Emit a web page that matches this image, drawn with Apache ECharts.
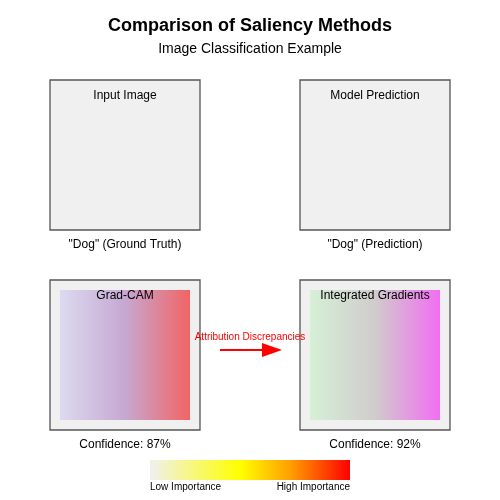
<!DOCTYPE html>
<html><head><meta charset="utf-8">
<script src="https://cdn.jsdelivr.net/npm/echarts@6/dist/echarts.min.js"></script>
<style>html,body{margin:0;padding:0;background:#fff}#c{width:500px;height:500px}</style>
</head><body><div id="c"></div>
<script>
// panels: [x0, y0, x1, y1] in the diagram's 0..500 coordinate space
const panelNames = ["Input Image", "Model Prediction", "Grad-CAM", "Integrated Gradients"];
const panelBoxes = [[50,80,200,230],[300,80,450,230],[50,280,200,430],[300,280,450,430]];
const panelCaptions = ['"Dog" (Ground Truth)', '"Dog" (Prediction)', 'Confidence: 87%', 'Confidence: 92%'];
const heatmapPanels = [2, 3];
const heatmapStops = [
  [[0,'#dcdaf0'],[0.5,'#c6a8d2'],[1,'#f26464']],
  [[0,'#d6f0d6'],[0.5,'#d0cccc'],[1,'#f26ef2']]
];
const colorbarStops = [[0,'#f0f0f0'],[0.45,'#ffff00'],[0.7,'#ffa000'],[1,'#ff0000']];
const colorbarLabels = ["Low Importance", "High Importance"];
const arrowLabel = "Attribution Discrepancies";

const FONT = 'Liberation Sans, Arial, sans-serif';
function grad(stops){return {type:'linear',x:0,y:0,x2:1,y2:0,colorStops:stops.map(s=>({offset:s[0],color:s[1]}))};}

const chart = echarts.init(document.getElementById('c'));
chart.setOption({
  animation:false,
  title:[
    {text:'Comparison of Saliency Methods',left:'center',top:12,textStyle:{fontSize:18,fontWeight:'bold',color:'#000',fontFamily:FONT}},
    {text:'Image Classification Example',left:'center',top:37,textStyle:{fontSize:14,fontWeight:'normal',color:'#000',fontFamily:FONT}}
  ],
  grid:{left:0,right:0,top:0,bottom:0},
  xAxis:{type:'value',min:0,max:500,show:false},
  yAxis:{type:'value',min:0,max:500,inverse:true,show:false},
  series:[{
    type:'custom',
    data:panelBoxes.map((b,i)=>[b[0],b[1],b[2],b[3],i]),
    renderItem:function(params, api){
      const i = api.value(4);
      const b = panelBoxes[i];
      const p0 = api.coord([b[0],b[1]]), p1 = api.coord([b[2],b[3]]);
      const children = [{type:'rect',shape:{x:p0[0],y:p0[1],width:p1[0]-p0[0],height:p1[1]-p0[1]},style:{fill:'#f0f0f0',stroke:'#555',lineWidth:1.3}}];
      const hi = heatmapPanels.indexOf(i);
      if(hi>=0){
        const q0 = api.coord([b[0]+10,b[1]+10]), q1 = api.coord([b[2]-10,b[3]-10]);
        children.push({type:'rect',shape:{x:q0[0],y:q0[1],width:q1[0]-q0[0],height:q1[1]-q0[1]},style:{fill:grad(heatmapStops[hi])}});
      }
      const t = api.coord([(b[0]+b[2])/2,b[1]+16]);
      children.push({type:'text',style:{x:t[0],y:t[1],text:panelNames[i],textAlign:'center',textVerticalAlign:'middle',font:'12px '+FONT,fill:'#000'}});
      const c = api.coord([(b[0]+b[2])/2,b[3]+15]);
      children.push({type:'text',style:{x:c[0],y:c[1],text:panelCaptions[i],textAlign:'center',textVerticalAlign:'middle',font:'12px '+FONT,fill:'#000'}});
      return {type:'group',children:children};
    }
  },{
    type:'custom',
    data:[[0]],
    renderItem:function(params, api){
      const a0 = api.coord([220,350]), a1 = api.coord([262,350]), a2 = api.coord([282,350]);
      const lt = api.coord([250,337]);
      const cb0 = api.coord([150,460]), cb1 = api.coord([350,480]);
      return {type:'group',children:[
        {type:'line',shape:{x1:a0[0],y1:a0[1],x2:a1[0],y2:a1[1]},style:{stroke:'#ff0000',lineWidth:2}},
        {type:'polygon',shape:{points:[[a1[0],a1[1]-7],[a2[0],a2[1]],[a1[0],a1[1]+7]]},style:{fill:'#ff0000'}},
        {type:'text',style:{x:lt[0],y:lt[1],text:arrowLabel,textAlign:'center',textVerticalAlign:'middle',font:'10px '+FONT,fill:'#ff0000'}},
        {type:'rect',shape:{x:cb0[0],y:cb0[1],width:cb1[0]-cb0[0],height:cb1[1]-cb0[1]},style:{fill:grad(colorbarStops)}},
        {type:'text',style:{x:cb0[0],y:cb1[1]+7,text:colorbarLabels[0],textAlign:'left',textVerticalAlign:'middle',font:'10px '+FONT,fill:'#000'}},
        {type:'text',style:{x:cb1[0],y:cb1[1]+7,text:colorbarLabels[1],textAlign:'right',textVerticalAlign:'middle',font:'10px '+FONT,fill:'#000'}}
      ]};
    }
  }]
});
</script></body></html>
